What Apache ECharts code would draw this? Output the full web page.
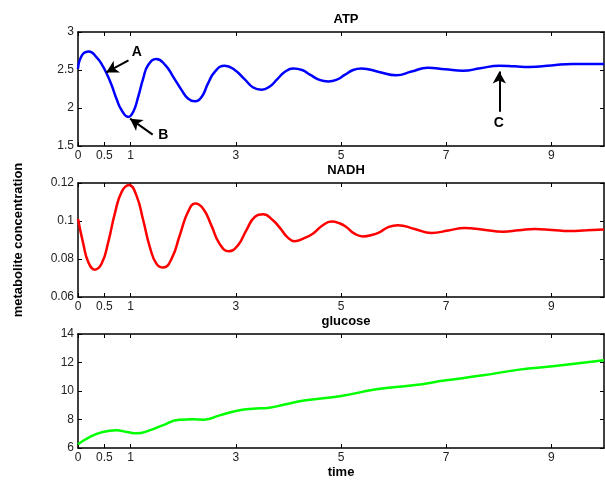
<!DOCTYPE html>
<html>
<head>
<meta charset="utf-8">
<script src="https://cdn.jsdelivr.net/npm/echarts@6/dist/echarts.min.js"></script>
<style>
  html, body { margin: 0; padding: 0; background: #fff; }
  #main { width: 605px; height: 482px; }
</style>
</head>
<body>
<div id="main"></div>
<script>
// points, [time, value]
const atpData = [
  [0, 2.516], [0.08, 2.70], [0.21, 2.745], [0.35, 2.67], [0.46, 2.565], [0.54, 2.46],
  [0.64, 2.30], [0.73, 2.125], [0.83, 1.97], [0.955, 1.883], [1.05, 1.95], [1.144, 2.146],
  [1.24, 2.39], [1.334, 2.565], [1.49, 2.645], [1.66, 2.565], [1.81, 2.41], [1.97, 2.235],
  [2.09, 2.125], [2.22, 2.088], [2.35, 2.146], [2.47, 2.32], [2.60, 2.476], [2.79, 2.557],
  [2.98, 2.50], [3.17, 2.376], [3.33, 2.27], [3.49, 2.24], [3.64, 2.28], [3.79, 2.38],
  [3.94, 2.48], [4.09, 2.52], [4.26, 2.50], [4.42, 2.435], [4.59, 2.37], [4.76, 2.35],
  [4.91, 2.37], [5.07, 2.435], [5.23, 2.50], [5.39, 2.52], [5.72, 2.475], [6.05, 2.43],
  [6.34, 2.48], [6.65, 2.53], [6.98, 2.51], [7.32, 2.49], [7.65, 2.523], [8.01, 2.556],
  [8.3, 2.548], [8.58, 2.54], [9.0, 2.56], [9.4, 2.58], [10, 2.58]
];
const nadhData = [
  [0, 0.1010], [0.10, 0.0881], [0.195, 0.0784], [0.32, 0.0744], [0.45, 0.0776], [0.575, 0.0889],
  [0.70, 0.1039], [0.83, 0.1153], [0.97, 0.1189], [1.11, 0.1135], [1.24, 0.1004], [1.366, 0.0863],
  [1.49, 0.0776], [1.62, 0.0755], [1.78, 0.0802], [1.935, 0.0925], [2.09, 0.1047], [2.23, 0.1092],
  [2.38, 0.1065], [2.535, 0.0977], [2.69, 0.0881], [2.865, 0.0841], [3.04, 0.0872], [3.2, 0.0951],
  [3.36, 0.1021], [3.52, 0.1035], [3.70, 0.1005], [3.85, 0.0960], [3.98, 0.0915], [4.12, 0.0893],
  [4.30, 0.0910], [4.47, 0.0934], [4.64, 0.0975], [4.82, 0.0997], [4.97, 0.0988], [5.10, 0.0968],
  [5.25, 0.0935], [5.42, 0.0919], [5.58, 0.0926], [5.74, 0.0942], [5.90, 0.0968], [6.08, 0.0978],
  [6.40, 0.0958], [6.72, 0.0937], [7.04, 0.095], [7.35, 0.0963], [7.71, 0.0954], [8.08, 0.0944],
  [8.38, 0.0951], [8.68, 0.0958], [9.01, 0.0953], [9.34, 0.0947], [9.67, 0.0951], [10, 0.0955]
];
const glucoseData = [
  [0, 6.26], [0.22, 6.77], [0.47, 7.12], [0.73, 7.24], [0.93, 7.12], [1.12, 7.03],
  [1.36, 7.24], [1.61, 7.59], [1.93, 7.99], [2.18, 8.01], [2.40, 7.99], [2.69, 8.29],
  [3.0, 8.6], [3.32, 8.76], [3.64, 8.83], [3.95, 9.07], [4.33, 9.35], [5.01, 9.65],
  [5.67, 10.12], [6.37, 10.4], [7.0, 10.75], [7.7, 11.1], [8.39, 11.5], [9.02, 11.73],
  [10, 12.15]
];
const timeTicks = [0, 0.5, 1, 3, 5, 7, 9];
const panelTitles = ['ATP', 'NADH', 'glucose'];
const yRanges = [[1.5, 3, 0.5], [0.06, 0.12, 0.02], [6, 14, 2]];
// annotation arrows: [tail, head, label position, label]
const arrows = [
  [[0.96, 2.627], [0.537, 2.468], [1.12, 2.74], 'A'],
  [[1.42, 1.65], [0.99, 1.86], [1.62, 1.64], 'B'],
  [[8.01, 1.95], [8.01, 2.48], [8.0, 1.8], 'C']
];

const font = 'Liberation Sans, Arial, sans-serif';
const gridTops = [32, 183, 334];
let myChart = echarts.init(document.getElementById('main'));

let grids = [], xAxes = [], yAxes = [], titles = [];
gridTops.forEach((top, i) => {
  grids.push({left: 78, top: top, width: 526, height: 114});
  titles.push({
    text: panelTitles[i], left: 341, top: top - 24, textAlign: 'center',
    textStyle: {fontFamily: font, fontSize: 13, fontWeight: 'bold', color: '#000'}
  });
  // bottom and top x axes
  ['bottom', 'top'].forEach(pos => {
    xAxes.push({
      type: 'value', gridIndex: i, position: pos, min: 0, max: 10,
      axisLine: {onZero: false, lineStyle: {color: '#000', width: 1.5}},
      axisTick: {inside: true, length: 4, customValues: timeTicks, lineStyle: {color: '#000'}},
      axisLabel: pos === 'bottom' ? {
        customValues: timeTicks, margin: 4, fontFamily: font, fontSize: 12, color: '#222'
      } : {show: false},
      splitLine: {show: false},
      name: (pos === 'bottom' && i === 2) ? 'time' : '',
      nameLocation: 'middle', nameGap: 18,
      nameTextStyle: {fontFamily: font, fontSize: 13, fontWeight: 'bold', color: '#000'}
    });
  });
  const r = yRanges[i];
  ['left', 'right'].forEach(pos => {
    yAxes.push({
      type: 'value', gridIndex: i, position: pos, min: r[0], max: r[1], interval: r[2],
      axisLine: {show: true, onZero: false, lineStyle: {color: '#000', width: 1.5}},
      axisTick: {show: true, inside: true, length: 4, lineStyle: {color: '#000'}},
      axisLabel: pos === 'left' ? {
        margin: 4, fontFamily: font, fontSize: 12, color: '#222',
        formatter: v => String(+v.toFixed(4))
      } : {show: false},
      splitLine: {show: false},
      name: (pos === 'left' && i === 1) ? 'metabolite concentration' : '',
      nameLocation: 'middle', nameGap: 53,
      nameTextStyle: {fontFamily: font, fontSize: 13, fontWeight: 'bold', color: '#000'}
    });
  });
});

const lineBase = {type: 'line', smooth: true, showSymbol: false};

let option = {
  animation: false,
  title: titles,
  grid: grids,
  xAxis: xAxes,
  yAxis: yAxes,
  series: [
    Object.assign({}, lineBase, {
      name: 'ATP', xAxisIndex: 0, yAxisIndex: 0, data: atpData,
      lineStyle: {color: '#0000ff', width: 2.5},
      markLine: {
        silent: true, symbol: ['none', 'arrow'], symbolSize: [10, 12],
        lineStyle: {color: '#000', width: 2, type: 'solid'}, label: {show: false},
        data: arrows.map(a => [{coord: a[0]}, {coord: a[1]}])
      },
      markPoint: {
        silent: true, symbol: 'circle', symbolSize: 1, itemStyle: {color: 'rgba(0,0,0,0)'},
        label: {show: true, position: 'inside', fontFamily: font, fontSize: 14, fontWeight: 'bold', color: '#000'},
        data: arrows.map(a => ({coord: a[2], value: a[3], label: {formatter: a[3]}}))
      }
    }),
    Object.assign({}, lineBase, {
      name: 'NADH', xAxisIndex: 2, yAxisIndex: 2, data: nadhData,
      lineStyle: {color: '#ff0000', width: 2.5}
    }),
    Object.assign({}, lineBase, {
      name: 'glucose', xAxisIndex: 4, yAxisIndex: 4, data: glucoseData,
      lineStyle: {color: '#00ff00', width: 2.5}
    })
  ]
};
myChart.setOption(option);
</script>
</body>
</html>
